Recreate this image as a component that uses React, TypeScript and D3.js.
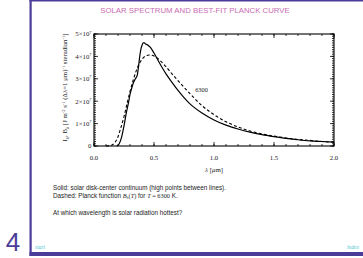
import React from 'react';
import * as d3 from 'd3';

// solar disk-center continuum (wavelength in micron, intensity)
const solidLambda = [0.19, 0.21, 0.23, 0.25, 0.27, 0.29, 0.30, 0.315, 0.33, 0.345, 0.36, 0.37, 0.38, 0.39, 0.40, 0.41, 0.42, 0.43, 0.45, 0.47, 0.50, 0.54, 0.60, 0.65, 0.70, 0.75, 0.80, 0.90, 1.00, 1.10, 1.20, 1.30, 1.40, 1.50, 1.60, 1.70, 1.80, 1.90, 2.00];
const solidValue = [0.0, 0.1e7, 0.4e7, 0.9e7, 1.5e7, 2.0e7, 2.3e7, 2.6e7, 2.85e7, 3.0e7, 3.15e7, 3.5e7, 3.95e7, 4.3e7, 4.5e7, 4.6e7, 4.6e7, 4.55e7, 4.5e7, 4.4e7, 4.15e7, 3.76e7, 3.22e7, 2.84e7, 2.48e7, 2.16e7, 1.88e7, 1.47e7, 1.16e7, 0.93e7, 0.76e7, 0.62e7, 0.51e7, 0.42e7, 0.34e7, 0.28e7, 0.23e7, 0.2e7, 0.17e7];

// best-fit Planck curve, T = 6300 K
const dashLambda = [0.10, 0.13, 0.15, 0.17, 0.20, 0.22, 0.25, 0.28, 0.30, 0.33, 0.35, 0.38, 0.40, 0.43, 0.46, 0.50, 0.55, 0.60, 0.65, 0.70, 0.75, 0.80, 0.90, 1.00, 1.10, 1.20, 1.30, 1.40, 1.50, 1.60, 1.70, 1.80, 1.90, 2.00];
const dashValue = [0.0, 0.01e7, 0.04e7, 0.13e7, 0.41e7, 0.75e7, 1.31e7, 2.0e7, 2.43e7, 3.0e7, 3.33e7, 3.7e7, 3.87e7, 4.02e7, 4.06e7, 4.02e7, 3.82e7, 3.54e7, 3.22e7, 2.92e7, 2.62e7, 2.34e7, 1.8e7, 1.4e7, 1.08e7, 0.85e7, 0.67e7, 0.54e7, 0.44e7, 0.36e7, 0.29e7, 0.25e7, 0.2e7, 0.17e7];

const xMajor = [0, 0.5, 1.0, 1.5, 2.0];
const xMinor = d3.range(0, 2.0001, 0.1);
const yMajor = [0, 1e7, 2e7, 3e7, 4e7, 5e7];
const yMinor = d3.range(0, 5.0001e7, 1e6);
const yTickMant = ['0', '1', '2', '3', '4', '5'];

const purple = '#4a3c98';
const pink = '#c86cb2';
const cyan = '#4cc8d4';
const serif = '"Liberation Serif", "DejaVu Serif", serif';
const sans = '"Liberation Sans", Arial, sans-serif';

export default function App() {
  const x = d3.scaleLinear().domain([0, 2]).range([94, 334]);
  const y = d3.scaleLinear().domain([0, 5e7]).range([146, 34]);

  const line = d3.line<[number, number]>()
    .x(d => x(d[0]))
    .y(d => y(d[1]))
    .curve(d3.curveMonotoneX);

  const solid = line(solidLambda.map((l, i) => [l, solidValue[i]]));
  const dashed = line(dashLambda.map((l, i) => [l, dashValue[i]]));

  const [x0, x1] = x.range();
  const [yb, yt] = y.range();

  return (
    <svg width={363} height={258} style={{ position: 'absolute', left: 0, top: 0 }}>
      <rect width={363} height={258} fill="#fff" />
      {/* slide frame */}
      <rect x={29.5} y={0} width={2.2} height={256} fill={purple} />
      <rect x={29.5} y={0} width={334} height={1.5} fill={purple} />
      <rect x={29.5} y={252} width={334} height={4} fill={purple} />
      <text x={13} y={251} fontFamily={sans} fontSize={26} fill={purple} textAnchor="middle">4</text>
      <text x={35} y={249} fontFamily={serif} fontStyle="italic" fontSize={5.5} fill={cyan}>start</text>
      <text x={359} y={249} fontFamily={serif} fontStyle="italic" fontSize={5.5} fill={cyan} textAnchor="end">index</text>

      <text x={195} y={13} fontFamily={sans} fontSize={7.8} fill={pink} textAnchor="middle">SOLAR SPECTRUM AND BEST-FIT PLANCK CURVE</text>

      {/* ticks */}
      <g stroke="#000" strokeWidth={0.8}>
        {xMinor.map((v, i) => (
          <g key={'xm' + i}>
            <line x1={x(v)} x2={x(v)} y1={yb} y2={yb - 2} />
            <line x1={x(v)} x2={x(v)} y1={yt} y2={yt + 2} />
          </g>
        ))}
        {xMajor.map((v, i) => (
          <g key={'xM' + i}>
            <line x1={x(v)} x2={x(v)} y1={yb} y2={yb - 4} />
            <line x1={x(v)} x2={x(v)} y1={yt} y2={yt + 4} />
          </g>
        ))}
        {yMinor.map((v, i) => (
          <g key={'ym' + i}>
            <line x1={x0} x2={x0 + 2} y1={y(v)} y2={y(v)} />
            <line x1={x1} x2={x1 - 2} y1={y(v)} y2={y(v)} />
          </g>
        ))}
        {yMajor.map((v, i) => (
          <g key={'yM' + i}>
            <line x1={x0} x2={x0 + 4} y1={y(v)} y2={y(v)} />
            <line x1={x1} x2={x1 - 4} y1={y(v)} y2={y(v)} />
          </g>
        ))}
      </g>
      <rect x={x0} y={yt} width={x1 - x0} height={yb - yt} fill="none" stroke="#000" strokeWidth={1.1} />

      {/* tick labels */}
      {xMajor.map((v, i) => (
        <text key={'xl' + i} x={x(v)} y={159.5} fontFamily={serif} fontSize={6.8} textAnchor="middle" fill="#222">{v.toFixed(1)}</text>
      ))}
      {yMajor.map((v, i) => (
        <text key={'yl' + i} x={x0 - 2.5} y={y(v) + 2.3} fontFamily={serif} fontSize={6.8} textAnchor="end" fill="#222">
          {i === 0 ? '0' : <>{yTickMant[i]}×10<tspan fontSize={4.4} dy={-2.7}>7</tspan></>}
        </text>
      ))}

      <text x={214} y={172} fontFamily={serif} fontSize={6.8} textAnchor="middle" fill="#222">
        <tspan fontStyle="italic">λ</tspan>  [<tspan fontStyle="italic">μ</tspan>m]
      </text>

      <text transform="translate(67,87.5) rotate(-90)" fontFamily={serif} fontSize={6.8} textAnchor="middle" fill="#222">
        I<tspan fontSize={4.5} dy={1.5}>λ</tspan><tspan dy={-1.5}>, B</tspan><tspan fontSize={4.5} dy={1.5}>λ</tspan><tspan dy={-1.5}>  [J  m</tspan><tspan fontSize={4.5} dy={-2.3}>-2</tspan><tspan dy={2.3}> s</tspan><tspan fontSize={4.5} dy={-2.3}>-1</tspan><tspan dy={2.3}> (Δλ=1 μm)</tspan><tspan fontSize={4.5} dy={-2.3}>-1</tspan><tspan dy={2.3}> steradian</tspan><tspan fontSize={4.5} dy={-2.3}>-1</tspan><tspan dy={2.3}>]</tspan>
      </text>

      {/* curves */}
      <path d={dashed || ''} fill="none" stroke="#000" strokeWidth={1.1} strokeDasharray="3,2.2" />
      <path d={solid || ''} fill="none" stroke="#000" strokeWidth={1.2} />
      <text x={201.5} y={92} fontFamily={serif} fontSize={6.3} textAnchor="middle" fill="#222">6300</text>

      {/* caption */}
      <g fontFamily={sans} fontSize={6.3} fill="#222">
        <text x={53} y={190}>Solid: solar disk-center continuum (high points between lines).</text>
        <text x={53} y={198}>Dashed: Planck function <tspan fontFamily={serif} fontStyle="italic">B</tspan><tspan fontFamily={serif} fontSize={4.2} dy={1.2}>λ</tspan><tspan fontFamily={serif} dy={-1.2}>(</tspan><tspan fontFamily={serif} fontStyle="italic">T</tspan><tspan fontFamily={serif}>)</tspan> for <tspan fontFamily={serif} fontStyle="italic">T</tspan><tspan fontFamily={serif}> = 6300</tspan> K.</text>
        <text x={53} y={215}>At which wavelength is solar radiation hottest?</text>
      </g>
    </svg>
  );
}
